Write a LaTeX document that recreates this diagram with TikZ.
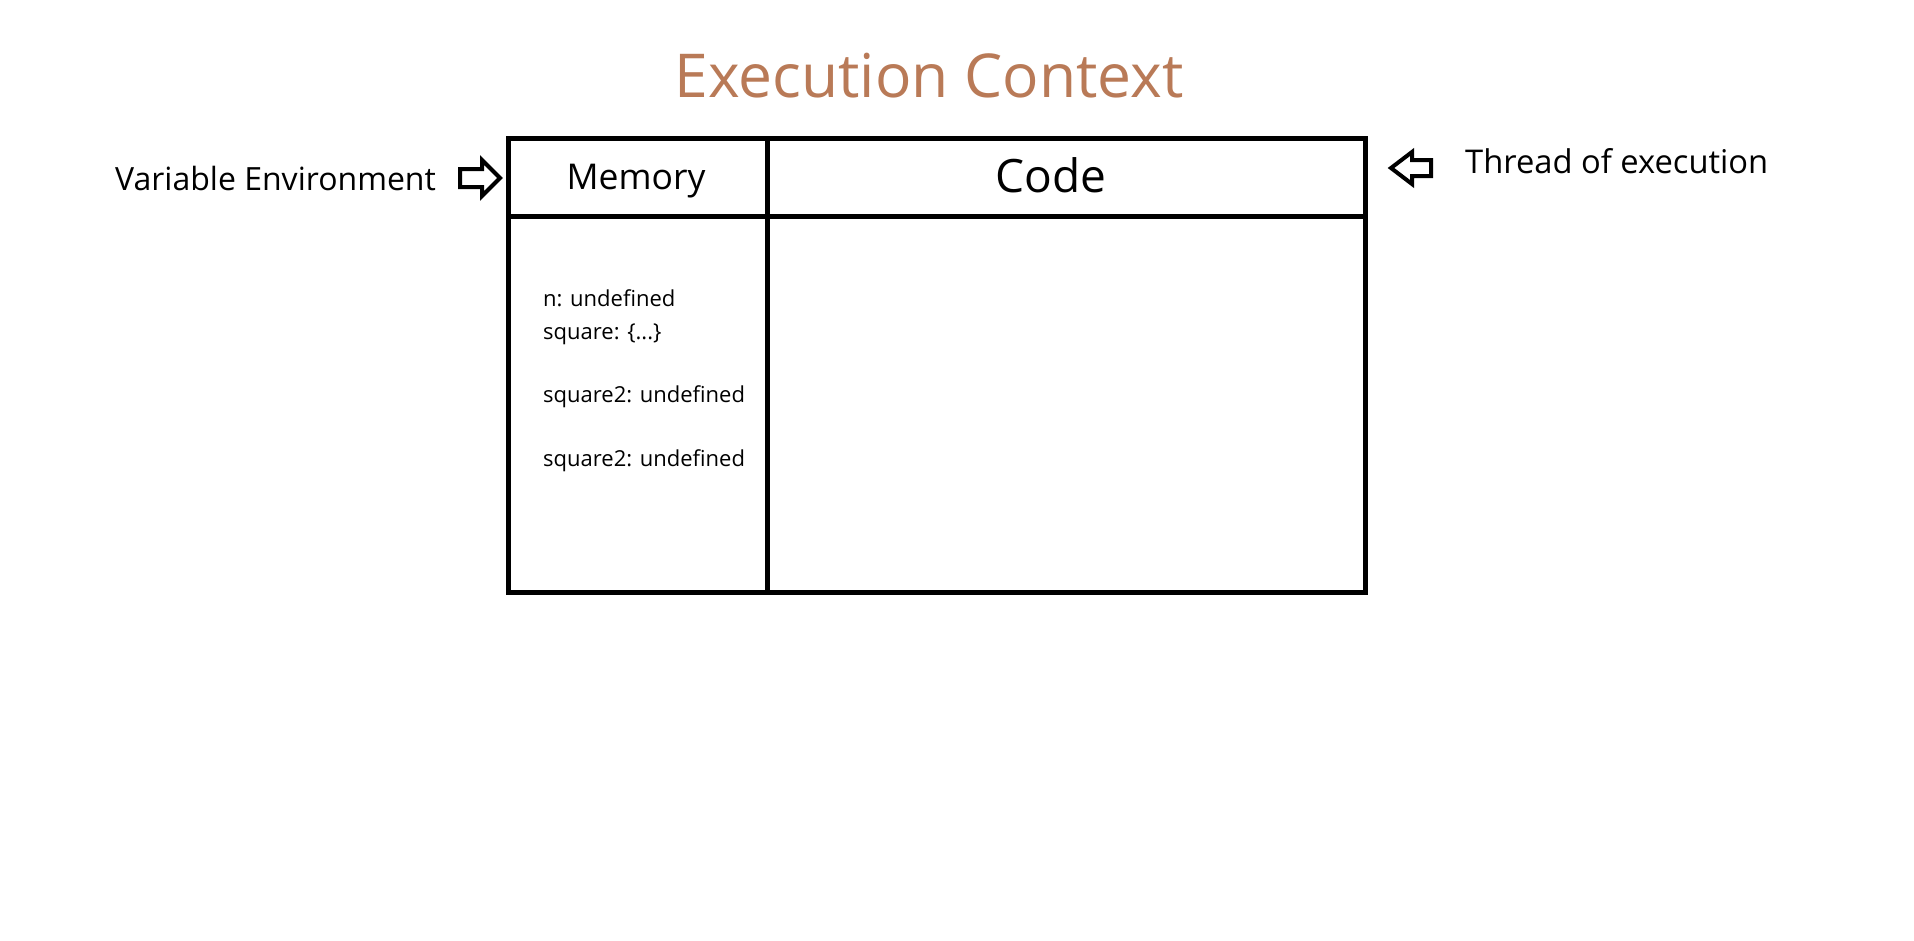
\documentclass[tikz,border=0pt]{standalone}
\usepackage{fontspec}
\setmainfont{Open Sans}
\definecolor{titlebrown}{RGB}{185,122,87}
\begin{document}
\begin{tikzpicture}[x=1pt,y=-1pt,
  frame/.style={line width=5pt, line join=miter},
  pointer/.style={line width=4pt, fill=white, line join=miter},
  label/.style={inner sep=0pt, text=black},
  memline/.style={label, anchor=base west, font=\fontsize{22}{26}\selectfont}]
  \useasboundingbox (0,0) rectangle (1914,940);

  % title
  \node[label, text=titlebrown, font=\fontsize{60.5}{70}\selectfont] (title) at (929,76) {Execution Context};

  % execution context table
  \coordinate (tl) at (508,138);
  \coordinate (br) at (1365,592);
  \draw[frame] (tl) rectangle (br);
  \draw[frame] (508,216) -- (1365,216);
  \draw[frame] (767,138) -- (767,592);

  % headers
  \node[label, font=\fontsize{35.5}{42}\selectfont] (memory) at (636,181) {Memory};
  \node[label, font=\fontsize{46}{54}\selectfont] (code) at (1051,175) {Code};

  % memory contents
  \node[memline] (m1) at (543,306) {n: undefined};
  \node[memline] (m2) at (543,339) {square: \{...\}};
  \node[memline] (m3) at (543,402) {square2: undefined};
  \node[memline] (m4) at (543,466) {square2: undefined};

  % side labels
  \node[label, anchor=base west, font=\fontsize{32}{38}\selectfont] (varenv) at (115,190) {Variable Environment};
  \node[label, anchor=base west, font=\fontsize{32.7}{38}\selectfont] (thread) at (1465,173) {Thread of execution};

  % hollow pointer arrows
  \draw[pointer] (460,169) -- (482,169) -- (482,160) -- (500,178) -- (482,196) -- (482,187) -- (460,187) -- cycle;
  \draw[pointer] (1431,160) -- (1412,160) -- (1412,152) -- (1391,168) -- (1412,184) -- (1412,176) -- (1431,176) -- cycle;
\end{tikzpicture}
\end{document}
